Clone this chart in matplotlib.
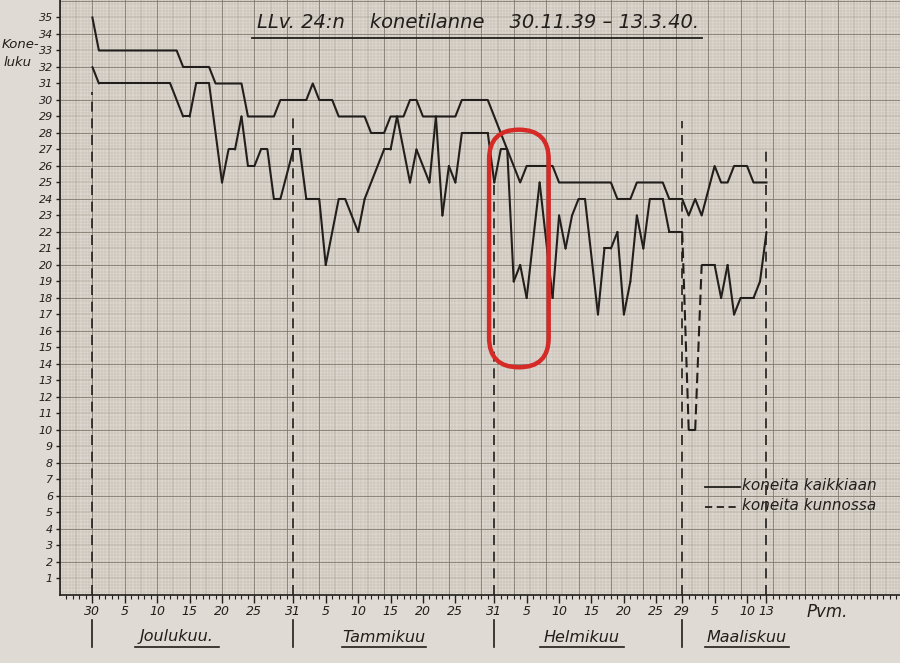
import numpy as np
import matplotlib
matplotlib.use("Agg")
import matplotlib.pyplot as plt
from matplotlib.patches import FancyBboxPatch
from matplotlib.transforms import blended_transform_factory

# days counted from 30.11.1939 (day 0) to 13.3.1940 (day 104)
total_days = [0, 1, 13, 14, 18, 19, 23, 24, 28, 29, 33, 34, 35, 37, 38, 42, 43, 45, 46, 48,
              49, 50, 51, 56, 57, 61, 62, 64, 66, 67, 71, 72, 80, 81, 83, 84, 88, 89, 91, 92,
              93, 94, 96, 97, 98, 99, 101, 102, 104]
total_vals = [35, 33, 33, 32, 32, 31, 31, 29, 29, 30, 30, 31, 30, 30, 29, 29, 28, 28, 29, 29,
              30, 30, 29, 29, 30, 30, 29, 27, 25, 26, 26, 25, 25, 24, 24, 25, 25, 24, 24, 23,
              24, 23, 26, 25, 25, 26, 26, 25, 25]

ok_days = [0, 1, 12, 14, 15, 16, 18, 20, 21, 22, 23, 24, 25, 26, 27, 28, 29, 31, 32, 33,
           35, 36, 38, 39, 41, 42, 45, 46, 47, 49, 50, 52, 53, 54, 55, 56, 57, 61, 62, 63,
           64, 65, 66, 67, 69, 71, 72, 73, 74, 75, 76, 78, 79, 80, 81, 82, 83, 84, 85, 86,
           88, 89, 91, 92, 93, 94, 96, 97, 98, 99, 100, 102, 103, 104]
ok_vals = [32, 31, 31, 29, 29, 31, 31, 25, 27, 27, 29, 26, 26, 27, 27, 24, 24, 27, 27, 24,
           24, 20, 24, 24, 22, 24, 27, 27, 29, 25, 27, 25, 29, 23, 26, 25, 28, 28, 25, 27,
           27, 19, 20, 18, 25, 18, 23, 21, 23, 24, 24, 17, 21, 21, 22, 17, 19, 23, 21, 24,
           24, 22, 22, 10, 10, 20, 20, 18, 20, 17, 18, 18, 19, 22]

tick_days = [0, 5, 10, 15, 20, 25, 31, 36, 41, 46, 51, 56, 62, 67, 72, 77, 82, 87, 91, 96, 101, 104]
tick_labels = ['30', '5', '10', '15', '20', '25', '31', '5', '10', '15', '20', '25',
               '31', '5', '10', '15', '20', '25', '29', '5', '10', '13']

month_names = ['Joulukuu.', 'Tammikuu', 'Helmikuu', 'Maaliskuu']
month_starts = [0, 31, 62, 91]
month_centers = [13, 45, 75.5, 101]

guide_days = [0, 31, 62, 91, 104]
guide_tops = [30.5, 29, 25, 28.7, 27]

ink = '#221e1b'
hand = dict(style='italic', family='DejaVu Sans', color=ink)

fig = plt.figure(figsize=(9, 6.63), dpi=100, facecolor='#dfdbd4')
ax = fig.add_axes([60 / 900, 68 / 663, 840 / 900, 595 / 663])
ax.set_facecolor('#dcd7cf')
ax.set_xlim(-5, 124.6)
ax.set_ylim(0, 36.06)

# graph paper
ax.hlines(np.arange(0, 36.1, 0.2), -5, 125, color='#bbb4a9', lw=0.3, zorder=0)
ax.vlines(np.arange(-5, 125, 0.5), 0, 37, color='#bbb4a9', lw=0.3, zorder=0)
ax.hlines(np.arange(1, 36.1, 2), -5, 125, color='#a9a195', lw=0.35, zorder=0)
ax.vlines(np.arange(-2.5, 125, 5), 0, 37, color='#a9a195', lw=0.35, zorder=0)
ax.hlines(np.arange(0, 36.1, 2), -5, 125, color='#7a7368', lw=0.55, zorder=0)
ax.vlines(np.arange(-5, 125, 5), 0, 37, color='#7a7368', lw=0.55, zorder=0)

# dashed month guides
ax.vlines(guide_days, 0, guide_tops, color=ink, lw=1.2, linestyles=(0, (6, 4)), zorder=2)

# total aircraft
ax.plot(total_days, total_vals, color=ink, lw=1.5, zorder=3)

# serviceable aircraft, the big March jumps dashed as on the original
for i in range(len(ok_days) - 1):
    big = abs(ok_vals[i + 1] - ok_vals[i]) >= 10
    ax.plot(ok_days[i:i + 2], ok_vals[i:i + 2], color=ink, lw=1.5, zorder=3,
            linestyle=(0, (5, 2.5)) if big else '-', solid_capstyle='round')

for side in ['top', 'right']:
    ax.spines[side].set_visible(False)
ax.spines['left'].set_color(ink)
ax.spines['bottom'].set_color(ink)
ax.spines['left'].set_linewidth(1.2)
ax.spines['bottom'].set_linewidth(1.2)

ax.set_yticks(range(1, 36))
ax.set_yticklabels([str(v) for v in range(1, 36)], fontsize=8, **hand)
ax.tick_params(axis='y', length=3, width=1, color=ink, pad=2)
ax.set_xticks(tick_days)
ax.set_xticklabels(tick_labels, fontsize=9, **hand)
ax.set_xticks(range(-4, 125), minor=True)
ax.tick_params(axis='x', which='major', length=6, width=1, color=ink, pad=1)
ax.tick_params(axis='x', which='minor', length=3, width=0.8, color=ink)

# month strip below the axis
tr = blended_transform_factory(ax.transData, ax.transAxes)
for d in month_starts:
    ax.plot([d, d], [-25 / 595, -52 / 595], color=ink, lw=1.2, transform=tr, clip_on=False)
for name, c in zip(month_names, month_centers):
    ax.text(c, -42 / 595, name, transform=tr, ha='center', va='center', fontsize=11.5, **hand)
    ax.plot([c - 6.5, c + 6.5], [-52 / 595, -52 / 595], color=ink, lw=1.2,
            transform=tr, clip_on=False)
fig.text(807 / 900, 1 - 612 / 663, 'Pvm.', fontsize=12, ha='left', va='center', **hand)

# red highlight around the early February dip
ring = FancyBboxPatch((61.2, 13.8), 9.2, 14.4,
                      boxstyle='round,pad=0,rounding_size=4.6', mutation_aspect=0.39,
                      fill=False, ec='#d62a27', lw=3.2, zorder=5)
ax.add_patch(ring)

# title and axis name
fig.text(478 / 900, 1 - 23 / 663, 'LLv. 24:n    konetilanne    30.11.39 \u2013 13.3.40.',
         fontsize=14, ha='center', va='center', **hand)
fig.add_artist(plt.Line2D([252 / 900, 702 / 900], [1 - 38 / 663, 1 - 38 / 663],
                          color=ink, lw=1.3))
fig.text(2 / 900, 1 - 45 / 663, 'Kone-', fontsize=9.5, ha='left', va='center', **hand)
fig.text(4 / 900, 1 - 63 / 663, 'luku', fontsize=9.5, ha='left', va='center', **hand)

# hand-drawn legend
ax.plot([-5 + (705 - 60) / 6.48, -5 + (740 - 60) / 6.48], [(594.5 - 487) / 16.5] * 2,
        color=ink, lw=1.3, zorder=4)
ax.plot([-5 + (705 - 60) / 6.48, -5 + (740 - 60) / 6.48], [(594.5 - 507) / 16.5] * 2,
        color=ink, lw=1.3, linestyle=(0, (4, 2.5)), zorder=4)
fig.text(742 / 900, 1 - 486 / 663, 'koneita kaikkiaan', fontsize=11, ha='left', va='center', **hand)
fig.text(742 / 900, 1 - 506 / 663, 'koneita kunnossa', fontsize=11, ha='left', va='center', **hand)

fig.savefig('out.png', dpi=100, facecolor=fig.get_facecolor())
